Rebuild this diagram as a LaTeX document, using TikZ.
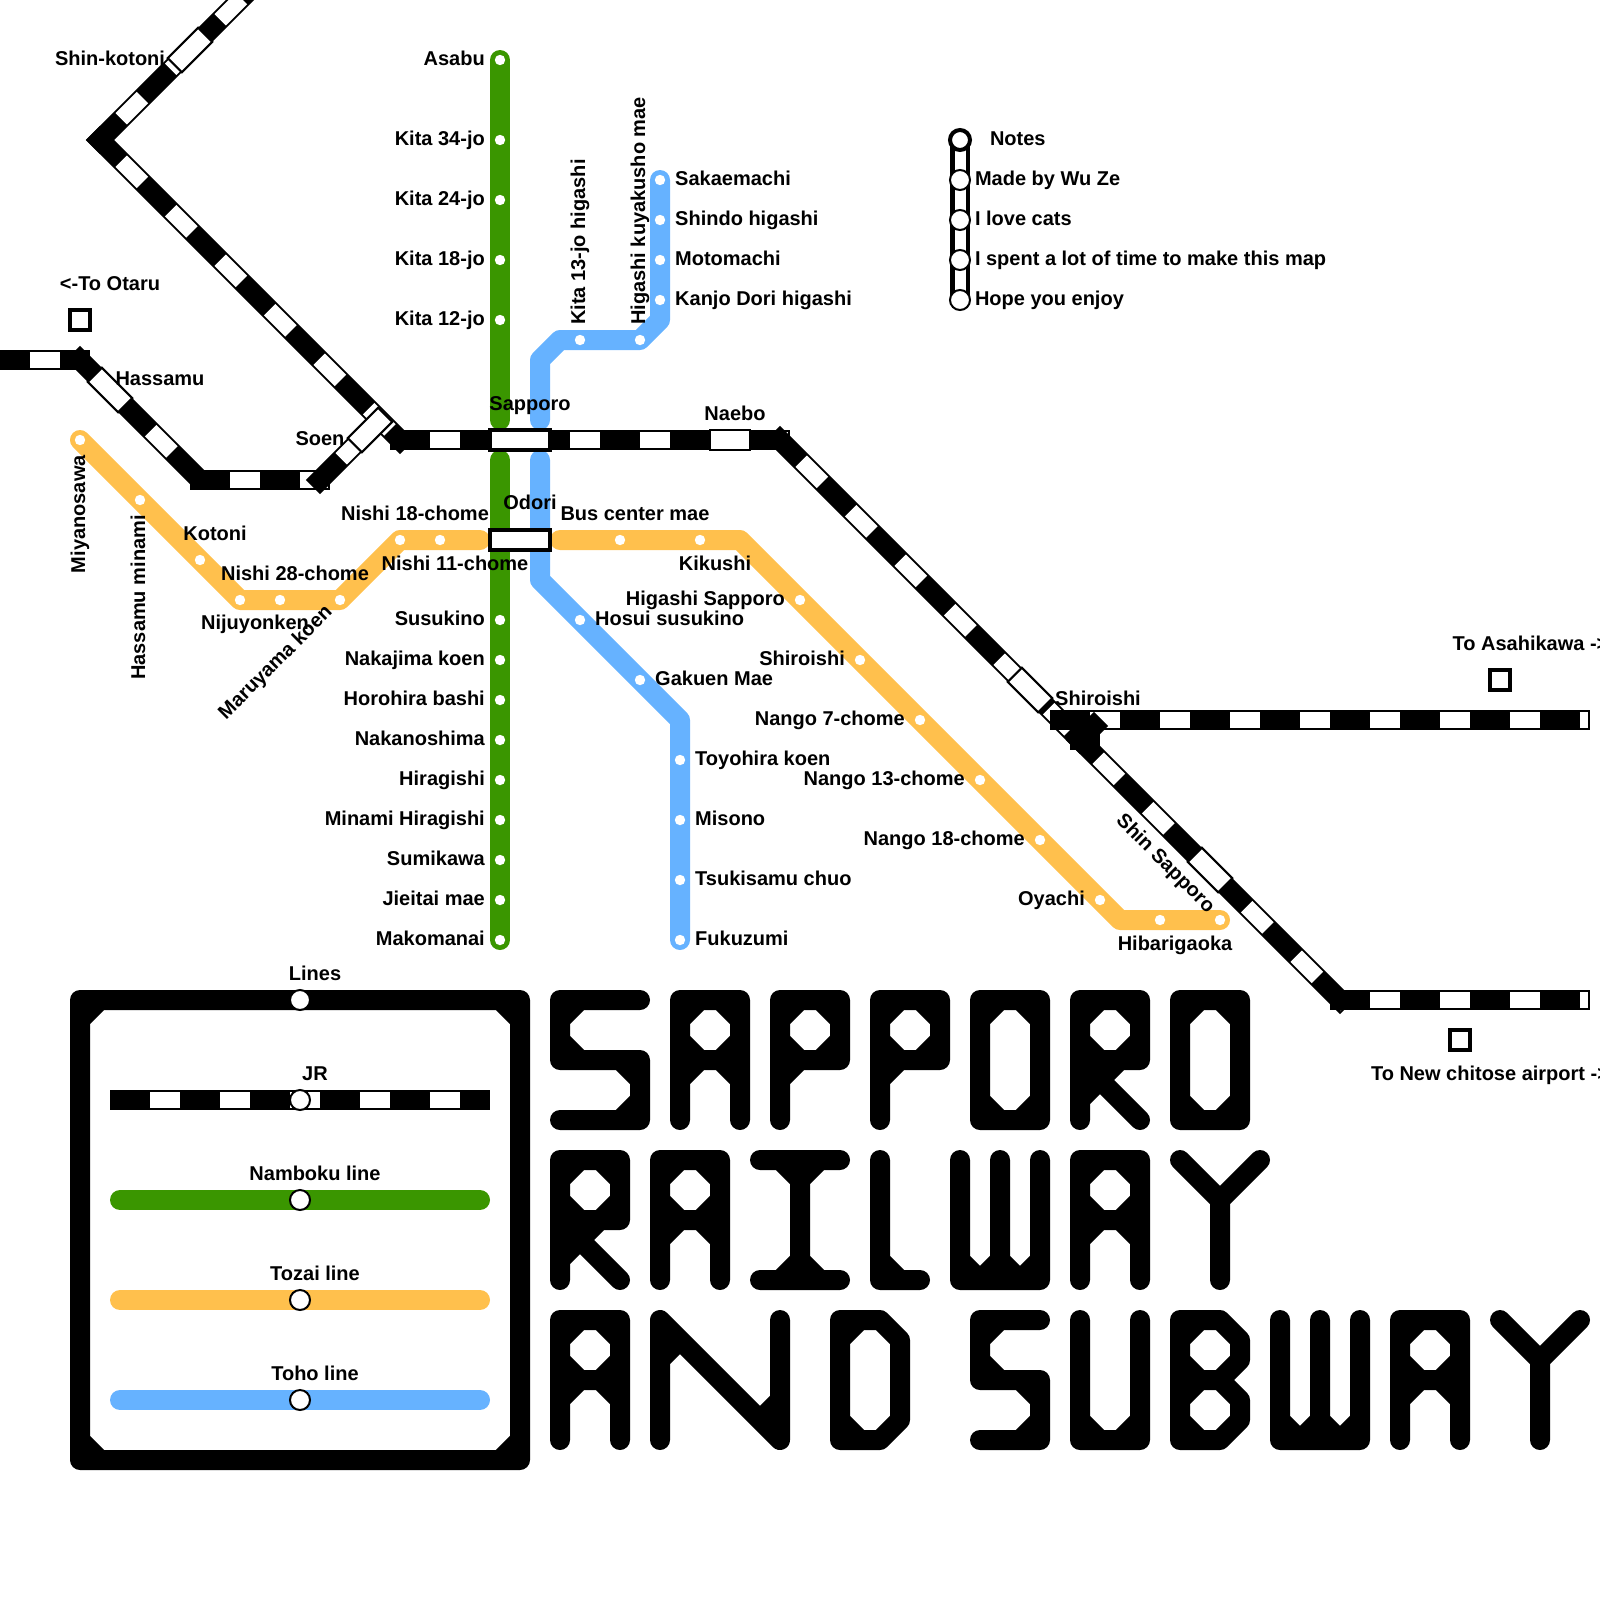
\documentclass[tikz,border=0pt]{standalone}
\usepackage{fontspec}
\setmainfont{Liberation Sans}
\usetikzlibrary{positioning, backgrounds}
\definecolor{nambokugreen}{HTML}{3A9600}
\definecolor{tozaiorange}{HTML}{FFC04D}
\definecolor{tohoblue}{HTML}{66B2FF}
\tikzstyle{stn} = [circle,
			fill = white,
			minimum size = .52cm,
			inner sep = 0pt,
			outer sep = 0pt]
\tikzstyle{ring} = [circle,
			draw,
			line width = .1cm,
			fill = white,
			minimum size = 1cm,
			inner sep = 0pt,
			outer sep = 0pt]
\tikzstyle{rect} = [rectangle,
			draw,
			line width = .1cm,
			fill = white,
			minimum width = 2cm,
			minimum height = 1cm,
			inner sep = 0pt,
			outer sep = 0pt]
\tikzstyle{slant} = [rect,
			minimum width = 2.15cm]
\tikzstyle{hub} = [rectangle,
			draw,
			line width = .2cm,
			fill = white,
			minimum width = 3cm,
			minimum height = 1cm,
			inner sep = 0pt,
			outer sep = 0pt]
\tikzstyle{term} = [rectangle,
			draw,
			line width = .2cm,
			fill = white,
			minimum size = 1cm,
			inner sep = 0pt,
			outer sep = 0pt]
\tikzstyle{lbl} = [font = \fontsize{28.45}{34}\selectfont\bfseries,
			text height = 20.5pt,
			text depth = 5.7pt,
			inner sep = 0pt,
			outer sep = 0pt]
\tikzstyle{jr} = [black,
			line width = 1cm,
			line cap = rect,
			postaction = {draw, white, line width = .8cm, line cap = butt,
				dash pattern = on 1.5cm off 2cm, dash phase = 2cm,
				shorten > = -.4cm}]
\tikzstyle{tube} = [line width = 1cm,
			line cap = round,
			line join = round]
\tikzstyle{glyph} = [black,
			line width = 1cm,
			line cap = round,
			line join = round]
\newcommand{\letterA}[2]{\draw [glyph, shift={(#1,#2)}] (0,120) -- (0,0) -- (60,0) -- (60,120) (0,60) -- (60,60)
	(0,20) -- (20,0) (40,0) -- (60,20) (60,40) -- (40,60) (20,60) -- (0,40) (0,80) -- (20,60) (40,60) -- (60,80);}
\newcommand{\letterB}[2]{\draw [glyph, shift={(#1,#2)}] (0,0) -- (40,0) -- (60,20) -- (60,40) -- (40,60) -- (60,80) -- (60,100) -- (40,120) -- (0,120) -- cycle (0,60) -- (40,60)
	(0,20) -- (20,0) (20,60) -- (0,40) (0,80) -- (20,60) (20,120) -- (0,100);}
\newcommand{\letterD}[2]{\draw [glyph, shift={(#1,#2)}] (0,0) -- (40,0) -- (60,20) -- (60,100) -- (40,120) -- (0,120) -- cycle
	(0,20) -- (20,0) (20,120) -- (0,100);}
\newcommand{\letterI}[2]{\draw [glyph, shift={(#1,#2)}] (0,0) -- (80,0) (40,0) -- (40,120) (0,120) -- (80,120)
	(20,0) -- (40,20) -- (60,0) (20,120) -- (40,100) -- (60,120);}
\newcommand{\letterL}[2]{\draw [glyph, shift={(#1,#2)}] (0,0) -- (0,120) -- (40,120) (0,100) -- (20,120);}
\newcommand{\letterN}[2]{\draw [glyph, shift={(#1,#2)}] (0,120) -- (0,0) -- (120,120) -- (120,0) (0,40) -- (20,20) (120,80) -- (100,100);}
\newcommand{\letterO}[2]{\draw [glyph, shift={(#1,#2)}] (0,0) -- (60,0) -- (60,120) -- (0,120) -- cycle
	(0,20) -- (20,0) (40,0) -- (60,20) (60,100) -- (40,120) (20,120) -- (0,100);}
\newcommand{\letterP}[2]{\draw [glyph, shift={(#1,#2)}] (0,120) -- (0,0) -- (60,0) -- (60,60) -- (0,60)
	(0,20) -- (20,0) (40,0) -- (60,20) (60,40) -- (40,60) (20,60) -- (0,40) (0,80) -- (20,60);}
\newcommand{\letterR}[2]{\draw [glyph, shift={(#1,#2)}] (0,120) -- (0,0) -- (60,0) -- (60,60) -- (0,60) -- (60,120)
	(0,20) -- (20,0) (40,0) -- (60,20) (60,40) -- (40,60) (20,60) -- (0,40) (0,100) -- (40,60);}
\newcommand{\letterS}[3]{\draw [glyph, shift={(#1,#2)}] (#3,0) -- (0,0) -- (0,60) -- (#3,60) -- (#3,120) -- (0,120)
	(0,20) -- (20,0) (20,60) -- (0,40) (#3,80) -- ({#3-20},60) ({#3-20},120) -- (#3,100);}
\newcommand{\letterU}[2]{\draw [glyph, shift={(#1,#2)}] (0,0) -- (0,120) -- (60,120) -- (60,0) (0,100) -- (20,120) (40,120) -- (60,100);}
\newcommand{\letterW}[2]{\draw [glyph, shift={(#1,#2)}] (0,0) -- (0,120) -- (80,120) -- (80,0) (40,0) -- (40,120)
	(0,100) -- (20,120) -- (40,100) -- (60,120) -- (80,100);}
\newcommand{\letterY}[2]{\draw [glyph, shift={(#1,#2)}] (0,0) -- (40,40) -- (40,120) (80,0) -- (40,40);}

\begin{document}
\begin{tikzpicture}[x=.05cm, y=-.05cm]
	\useasboundingbox (0,0) rectangle (1600,1600);

	\node [stn] (asabu) at (500,60) {};
	\node [lbl, left=.5cm of asabu] (asabu-name) {Asabu};
	\node [stn] (kita34) at (500,140) {};
	\node [lbl, left=.5cm of kita34] (kita34-name) {Kita 34-jo};
	\node [stn] (kita24) at (500,200) {};
	\node [lbl, left=.5cm of kita24] (kita24-name) {Kita 24-jo};
	\node [stn] (kita18) at (500,260) {};
	\node [lbl, left=.5cm of kita18] (kita18-name) {Kita 18-jo};
	\node [stn] (kita12) at (500,320) {};
	\node [lbl, left=.5cm of kita12] (kita12-name) {Kita 12-jo};
	\node [stn] (susukino) at (500,620) {};
	\node [lbl, left=.5cm of susukino] (susukino-name) {Susukino};
	\node [stn] (nakajima) at (500,660) {};
	\node [lbl, left=.5cm of nakajima] (nakajima-name) {Nakajima koen};
	\node [stn] (horohira) at (500,700) {};
	\node [lbl, left=.5cm of horohira] (horohira-name) {Horohira bashi};
	\node [stn] (nakanoshima) at (500,740) {};
	\node [lbl, left=.5cm of nakanoshima] (nakanoshima-name) {Nakanoshima};
	\node [stn] (hiragishi) at (500,780) {};
	\node [lbl, left=.5cm of hiragishi] (hiragishi-name) {Hiragishi};
	\node [stn] (minami) at (500,820) {};
	\node [lbl, left=.5cm of minami] (minami-name) {Minami Hiragishi};
	\node [stn] (sumikawa) at (500,860) {};
	\node [lbl, left=.5cm of sumikawa] (sumikawa-name) {Sumikawa};
	\node [stn] (jieitai) at (500,900) {};
	\node [lbl, left=.5cm of jieitai] (jieitai-name) {Jieitai mae};
	\node [stn] (makomanai) at (500,940) {};
	\node [lbl, left=.5cm of makomanai] (makomanai-name) {Makomanai};

	\node [stn] (sakaemachi) at (660,180) {};
	\node [lbl, right=.5cm of sakaemachi] (sakaemachi-name) {Sakaemachi};
	\node [stn] (shindo) at (660,220) {};
	\node [lbl, right=.5cm of shindo] (shindo-name) {Shindo higashi};
	\node [stn] (motomachi) at (660,260) {};
	\node [lbl, right=.5cm of motomachi] (motomachi-name) {Motomachi};
	\node [stn] (kanjo) at (660,300) {};
	\node [lbl, right=.5cm of kanjo] (kanjo-name) {Kanjo Dori higashi};
	\node [stn] (kuyakusho) at (640,340) {};
	\node [lbl, rotate=90, anchor=west] (kuyakusho-name) at ([yshift=.5cm]kuyakusho.north) {Higashi kuyakusho mae};
	\node [stn] (kita13) at (580,340) {};
	\node [lbl, rotate=90, anchor=west] (kita13-name) at ([yshift=.5cm]kita13.north) {Kita 13-jo higashi};
	\node [stn] (hosui) at (580,620) {};
	\node [lbl, right=.5cm of hosui] (hosui-name) {Hosui susukino};
	\node [stn] (gakuen) at (640,680) {};
	\node [lbl, right=.5cm of gakuen] (gakuen-name) {Gakuen Mae};
	\node [stn] (toyohira) at (680,760) {};
	\node [lbl, right=.5cm of toyohira] (toyohira-name) {Toyohira koen};
	\node [stn] (misono) at (680,820) {};
	\node [lbl, right=.5cm of misono] (misono-name) {Misono};
	\node [stn] (tsukisamu) at (680,880) {};
	\node [lbl, right=.5cm of tsukisamu] (tsukisamu-name) {Tsukisamu chuo};
	\node [stn] (fukuzumi) at (680,940) {};
	\node [lbl, right=.5cm of fukuzumi] (fukuzumi-name) {Fukuzumi};

	\node [stn] (miyanosawa) at (80,440) {};
	\node [lbl, rotate=90, anchor=east] (miyanosawa-name) at ([yshift=-.5cm]miyanosawa.south) {Miyanosawa};
	\node [stn] (hassamu-minami) at (140,500) {};
	\node [lbl, rotate=90, anchor=east] (hassamu-minami-name) at ([yshift=-.5cm]hassamu-minami.south) {Hassamu minami};
	\node [stn] (kotoni) at (200,560) {};
	\node [lbl] (kotoni-name) at ([shift={(15,-25)}]kotoni) {Kotoni};
	\node [stn] (nijuyonken) at (240,600) {};
	\node [lbl] (nijuyonken-name) at ([shift={(15,24)}]nijuyonken) {Nijuyonken};
	\node [stn] (nishi28) at (280,600) {};
	\node [lbl] (nishi28-name) at ([shift={(15,-25)}]nishi28) {Nishi 28-chome};
	\node [stn] (maruyama) at (340,600) {};
	\node [lbl, rotate=45] (maruyama-name) at ([shift={(-64,63)}]maruyama) {Maruyama koen};
	\node [stn] (nishi18) at (400,540) {};
	\node [lbl] (nishi18-name) at ([shift={(15,-25)}]nishi18) {Nishi 18-chome};
	\node [stn] (nishi11) at (440,540) {};
	\node [lbl] (nishi11-name) at ([shift={(15,25)}]nishi11) {Nishi 11-chome};
	\node [stn] (buscenter) at (620,540) {};
	\node [lbl] (buscenter-name) at ([shift={(15,-25)}]buscenter) {Bus center mae};
	\node [stn] (kikushi) at (700,540) {};
	\node [lbl] (kikushi-name) at ([shift={(15,25)}]kikushi) {Kikushi};
	\node [stn] (higashi) at (800,600) {};
	\node [lbl, left=.5cm of higashi] (higashi-name) {Higashi Sapporo};
	\node [stn] (tozai-shiroishi) at (860,660) {};
	\node [lbl, left=.5cm of tozai-shiroishi] (tozai-shiroishi-name) {Shiroishi};
	\node [stn] (nango7) at (920,720) {};
	\node [lbl, left=.5cm of nango7] (nango7-name) {Nango 7-chome};
	\node [stn] (nango13) at (980,780) {};
	\node [lbl, left=.5cm of nango13] (nango13-name) {Nango 13-chome};
	\node [stn] (nango18) at (1040,840) {};
	\node [lbl, left=.5cm of nango18] (nango18-name) {Nango 18-chome};
	\node [stn] (oyachi) at (1100,900) {};
	\node [lbl, left=.5cm of oyachi] (oyachi-name) {Oyachi};
	\node [stn] (oyachi-east) at (1160,920) {};
	\node [lbl] (hibarigaoka-name) at ([shift={(15,25)}]oyachi-east) {Hibarigaoka};
	\node [stn] (hibarigaoka) at (1220,920) {};

	\node [slant, rotate=45] (shinkotoni) at (190,50) {};
	\node [lbl] (shinkotoni-name) at ([shift={(-80,10)}]shinkotoni) {Shin-kotoni};
	\node [slant, rotate=-45] (hassamu) at (110,390) {};
	\node [lbl] (hassamu-name) at ([shift={(50,-10)}]hassamu) {Hassamu};
	\node [slant, rotate=45] (soen) at (370,430) {};
	\node [lbl] (soen-name) at ([shift={(-50,10)}]soen) {Soen};
	\node [hub] (sapporo) at (520,440) {};
	\node [lbl] (sapporo-name) at ([shift={(10,-35)}]sapporo) {Sapporo};
	\node [hub] (odori) at (520,540) {};
	\node [lbl] (odori-name) at ([shift={(10,-36)}]odori) {Odori};
	\node [rect] (naebo) at (730,440) {};
	\node [lbl] (naebo-name) at ([shift={(5,-25)}]naebo) {Naebo};
	\node [slant, rotate=-45] (shiroishi) at (1030,690) {};
	\node [lbl] (shiroishi-name) at ([shift={(68,10)}]shiroishi) {Shiroishi};
	\node [slant, rotate=-45] (shinsapporo) at (1210,870) {};
	\node [lbl, rotate=-45] (shinsapporo-name) at ([shift={(-45,-6)}]shinsapporo) {Shin Sapporo};

	\node [term] (otaru) at (80,320) {};
	\node [lbl] (otaru-name) at ([shift={(30,-35)}]otaru) {<-To Otaru};
	\node [term] (asahikawa) at (1500,680) {};
	\node [lbl] (asahikawa-name) at ([shift={(30.5,-35)}]asahikawa) {To Asahikawa ->};
	\node [term] (chitose) at (1460,1040) {};
	\node [lbl] (chitose-name) at ([shift={(30,35)}]chitose) {To New chitose airport ->};

	\node [ring, line width=.2cm] (notes-head) at (960,140) {};
	\node [lbl, right=1cm of notes-head] (notes-name) {Notes};
	\node [ring] (note-a) at (960,180) {};
	\node [lbl, right=.25cm of note-a] (note-a-name) {Made by Wu Ze};
	\node [ring] (note-b) at (960,220) {};
	\node [lbl, right=.25cm of note-b] (note-b-name) {I love cats};
	\node [ring] (note-c) at (960,260) {};
	\node [lbl, right=.25cm of note-c] (note-c-name) {I spent a lot of time to make this map};
	\node [ring] (note-d) at (960,300) {};
	\node [lbl, right=.25cm of note-d] (note-d-name) {Hope you enjoy};

	\node [ring] (key-lines) at (300,1000) {};
	\node [lbl] (key-lines-name) at ([shift={(15,-25)}]key-lines) {Lines};
	\node [ring] (key-jr) at (300,1100) {};
	\node [lbl] (key-jr-name) at ([shift={(15,-25)}]key-jr) {JR};
	\node [ring] (key-namboku) at (300,1200) {};
	\node [lbl] (key-namboku-name) at ([shift={(15,-25)}]key-namboku) {Namboku line};
	\node [ring] (key-tozai) at (300,1300) {};
	\node [lbl] (key-tozai-name) at ([shift={(15,-25)}]key-tozai) {Tozai line};
	\node [ring] (key-toho) at (300,1400) {};
	\node [lbl] (key-toho-name) at ([shift={(15,-25)}]key-toho) {Toho line};

	\coordinate (otaru-end) at (0,360);
	\coordinate (hassamu-in) at (80,360);
	\coordinate (hassamu-out) at (190,470);
	\coordinate (soen-in) at (200,480);
	\coordinate (soen-out) at (320,480);
	\coordinate (kotoni-top) at (250,-10);
	\coordinate (kotoni-bend) at (100,140);
	\coordinate (sapporo-in) at (400,440);
	\coordinate (naebo-out) at (780,440);
	\coordinate (chitose-bend) at (1340,1000);
	\coordinate (chitose-end) at (1580,1000);
	\coordinate (asahikawa-in) at (1060,720);
	\coordinate (asahikawa-end) at (1580,720);
	\coordinate (junction) at (1080,740);
	\coordinate (junction-east) at (1090,740);
	\coordinate (junction-top) at (1094,726);
	\coordinate (sapporo-north) at (500,420);
	\coordinate (sapporo-south) at (500,460);
	\coordinate (toho-north) at (540,420);
	\coordinate (toho-turn) at (540,360);
	\coordinate (toho-top) at (560,340);
	\coordinate (toho-bend) at (660,320);
	\coordinate (toho-south) at (540,460);
	\coordinate (toho-low) at (540,580);
	\coordinate (toho-down) at (680,720);
	\coordinate (tozai-west) at (480,540);
	\coordinate (tozai-east) at (560,540);
	\coordinate (tozai-bend) at (740,540);
	\coordinate (tozai-turn) at (1120,920);
	\coordinate (key-jr-a) at (120,1100);
	\coordinate (key-jr-b) at (480,1100);
	\coordinate (key-namboku-a) at (120,1200);
	\coordinate (key-namboku-b) at (480,1200);
	\coordinate (key-tozai-a) at (120,1300);
	\coordinate (key-tozai-b) at (480,1300);
	\coordinate (key-toho-a) at (120,1400);
	\coordinate (key-toho-b) at (480,1400);

	\begin{pgfonlayer}{background}
		\draw [jr] (otaru-end) -- (hassamu-in);
		\draw [jr] (hassamu-in) -- (hassamu-out);
		\draw [jr] (soen-in) -- (soen-out);
		\draw [jr] (soen-out) -- (soen.center);
		\draw [jr] (kotoni-bend) -- (kotoni-top);
		\draw [jr] (kotoni-bend) -- (sapporo-in);
		\draw [jr] (sapporo-in) -- (naebo-out);
		\draw [jr] (naebo-out) -- (chitose-bend);
		\draw [jr] (chitose-bend) -- (chitose-end);
		\draw [jr] (asahikawa-in) -- (asahikawa-end);
		\draw [black, line width=1cm, line cap=rect] (junction) -- (junction-top);
		\draw [black, line width=1cm, line cap=rect] (junction) -- (junction-east);

		\draw [tube, nambokugreen] (asabu.center) -- (sapporo-north);
		\draw [tube, nambokugreen] (sapporo-south) -- (makomanai.center);
		\draw [tube, tohoblue] (toho-north) -- (toho-turn) -- (toho-top) -- (kuyakusho.center) -- (toho-bend) -- (sakaemachi.center);
		\draw [tube, tohoblue] (toho-south) -- (toho-low) -- (toho-down) -- (fukuzumi.center);
		\draw [tube, tozaiorange] (miyanosawa.center) -- (nijuyonken.center) -- (maruyama.center) -- (nishi18.center) -- (tozai-west);
		\draw [tube, tozaiorange] (tozai-east) -- (tozai-bend) -- (tozai-turn) -- (hibarigaoka.center);

		\draw [black, line width=1cm] (notes-head.center) -- (note-d.center);
		\draw [white, line width=.55cm] (notes-head.center) -- (note-d.center);

		\draw [glyph] (80,1000) -- (520,1000) -- (520,1460) -- (80,1460) -- cycle
			(80,1020) -- (100,1000) (500,1000) -- (520,1020) (520,1440) -- (500,1460) (100,1460) -- (80,1440);
		\draw [jr] (key-jr-a) -- (key-jr-b);
		\draw [tube, nambokugreen] (key-namboku-a) -- (key-namboku-b);
		\draw [tube, tozaiorange] (key-tozai-a) -- (key-tozai-b);
		\draw [tube, tohoblue] (key-toho-a) -- (key-toho-b);

		\letterS{560}{1000}{80}
		\letterA{680}{1000}
		\letterP{780}{1000}
		\letterP{880}{1000}
		\letterO{980}{1000}
		\letterR{1080}{1000}
		\letterO{1180}{1000}

		\letterR{560}{1160}
		\letterA{660}{1160}
		\letterI{760}{1160}
		\letterL{880}{1160}
		\letterW{960}{1160}
		\letterA{1080}{1160}
		\letterY{1180}{1160}

		\letterA{560}{1320}
		\letterN{660}{1320}
		\letterD{840}{1320}
		\letterS{980}{1320}{60}
		\letterU{1080}{1320}
		\letterB{1180}{1320}
		\letterW{1280}{1320}
		\letterA{1400}{1320}
		\letterY{1500}{1320}
	\end{pgfonlayer}
\end{tikzpicture}
\end{document}
